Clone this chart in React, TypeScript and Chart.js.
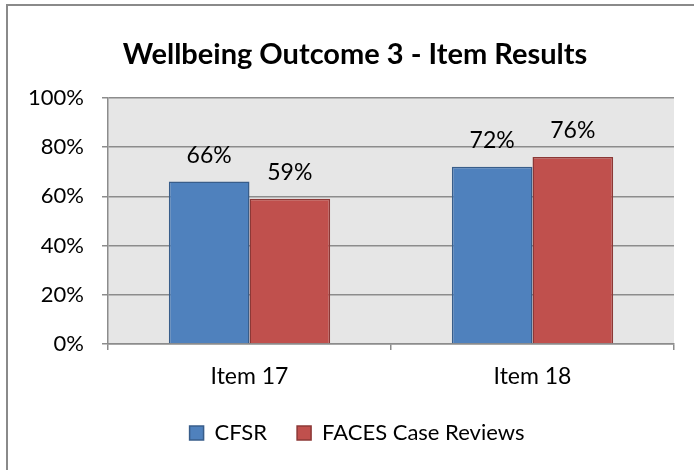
import React, { useEffect, useRef } from "react";
import { Chart, registerables } from "chart.js";

Chart.register(...registerables);

const categories = ["Item 17", "Item 18"];
const seriesNames = ["CFSR", "FACES Case Reviews"];
const cfsrValues = [66, 72];
const facesValues = [59, 76];
const yTicks = [0, 20, 40, 60, 80, 100];
const titleText = "Wellbeing Outcome 3 - Item Results";

const FONT = "Lato, 'DejaVu Sans', sans-serif";
const GRID = "#8c8c8c";

const plotBg = {
  id: "plotBg",
  beforeDraw(chart: any) {
    const { ctx, chartArea } = chart;
    ctx.save();
    ctx.fillStyle = "#e6e6e6";
    ctx.fillRect(chartArea.left, chartArea.top, chartArea.right - chartArea.left, chartArea.bottom - chartArea.top);
    ctx.restore();
  },
};

const shiftBoxes = {
  id: "shiftBoxes",
  afterLayout(chart: any) {
    if (chart.titleBlock) {
      chart.titleBlock.left += 8;
      chart.titleBlock.right += 8;
    }
    if (chart.legend) {
      chart.legend.left += 10;
      chart.legend.right += 10;
    }
  },
};

const dataLabels = {
  id: "dataLabels",
  afterDatasetsDraw(chart: any) {
    const { ctx } = chart;
    ctx.save();
    ctx.font = `23px ${FONT}`;
    ctx.fillStyle = "#000";
    ctx.textAlign = "center";
    ctx.textBaseline = "alphabetic";
    chart.data.datasets.forEach((ds: any, di: number) => {
      const meta = chart.getDatasetMeta(di);
      meta.data.forEach((el: any, i: number) => {
        ctx.fillText(`${ds.data[i]}%`, el.x, el.y - 19);
      });
    });
    ctx.restore();
  },
};

export default function App() {
  const ref = useRef<HTMLCanvasElement>(null);
  useEffect(() => {
    if (!ref.current) return;
    const chart = new Chart(ref.current, {
      type: "bar",
      data: {
        labels: categories,
        datasets: [
          {
            label: seriesNames[0],
            data: cfsrValues,
            backgroundColor: "#4f81bd",
            borderColor: "#385d8a",
            borderWidth: 1.5,
            categoryPercentage: 0.57,
            barPercentage: 1,
          },
          {
            label: seriesNames[1],
            data: facesValues,
            backgroundColor: "#c0504d",
            borderColor: "#8c3836",
            borderWidth: 1.5,
            categoryPercentage: 0.57,
            barPercentage: 1,
          },
        ],
      },
      options: {
        responsive: false,
        animation: false,
        events: [],
        layout: { padding: { left: 20, right: 20, top: 0, bottom: 16 } },
        plugins: {
          title: {
            display: true,
            text: titleText,
            color: "#000",
            font: { family: FONT, size: 29, weight: "bold", lineHeight: 1.2 },
            padding: { top: 37, bottom: 26 },
          },
          legend: {
            display: true,
            position: "bottom",
            labels: {
              color: "#000",
              font: { family: FONT, size: 22 },
              boxWidth: 14,
              boxHeight: 14,
              padding: 30,
            },
          },
          tooltip: { enabled: false },
        },
        scales: {
          x: {
            grid: {
              display: true,
              drawOnChartArea: false,
              drawTicks: true,
              tickLength: 6,
              color: GRID,
              lineWidth: 1.5,
            },
            border: { display: true, color: GRID, width: 1.5 },
            ticks: { color: "#000", font: { family: FONT, size: 23 }, padding: 13 },
            afterFit: (s: any) => {
              s.height = 48;
            },
          },
          y: {
            min: 0,
            max: 100,
            afterBuildTicks: (s: any) => {
              s.ticks = yTicks.map((v) => ({ value: v }));
            },
            grid: { color: GRID, tickLength: 6, lineWidth: 1.5 },
            border: { display: true, color: GRID, width: 1.5 },
            ticks: {
              color: "#000",
              font: { family: FONT, size: 22 },
              padding: 18,
              callback: (v: any) => `${v}%`,
            },
            afterFit: (s: any) => {
              s.width = 88;
            },
          },
        },
      },
      plugins: [plotBg, shiftBoxes, dataLabels],
    });
    return () => chart.destroy();
  }, []);
  return (
    <div style={{ position: "absolute", left: 0, top: 0, width: 694, height: 470, background: "#fff", overflow: "hidden" }}>
      <div
        style={{
          position: "absolute",
          left: 6,
          top: 4,
          width: 720,
          height: 500,
          borderLeft: "2px solid #8a8a8a",
          borderTop: "2px solid #8a8a8a",
        }}
      />
      <canvas ref={ref} width={694} height={470} style={{ position: "absolute", left: 0, top: 0 }} />
    </div>
  );
}
